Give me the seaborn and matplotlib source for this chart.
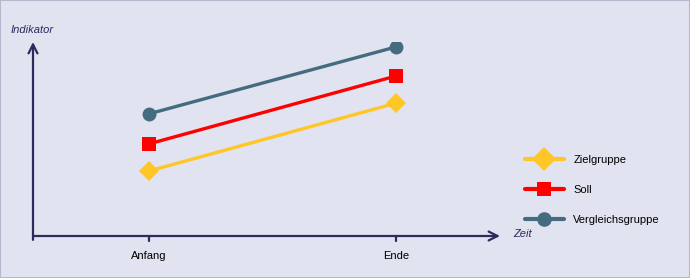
import matplotlib
matplotlib.use("Agg")
import matplotlib.pyplot as plt
import seaborn as sns
import pandas as pd
from matplotlib.patches import Rectangle
from matplotlib.lines import Line2D

sns.set_style("white")
plt.rcParams['font.family'] = ['Liberation Sans', 'DejaVu Sans']

zeitpunkte = ["Anfang", "Ende"]
gruppen = ["Zielgruppe", "Soll", "Vergleichsgruppe"]
zielgruppe = [3.35, 6.85]
soll = [4.75, 8.25]
vergleichsgruppe = [6.3, 9.75]

farben = {"Zielgruppe": "#FFC627", "Soll": "#FF0000", "Vergleichsgruppe": "#456B80"}
marker = {"Zielgruppe": "D", "Soll": "s", "Vergleichsgruppe": "o"}

rows = []
for g, vals in zip(gruppen, [zielgruppe, soll, vergleichsgruppe]):
    for i, v in enumerate(vals):
        rows.append({"Zeit": i, "Wert": v, "Gruppe": g})
df = pd.DataFrame(rows)

navy = "#2B2B5E"
bg = "#E1E3F0"

fig = plt.figure(figsize=(6.9, 2.78), dpi=100)
fig.patch.set_facecolor(bg)
fig.patches.append(Rectangle((0, 0), 1, 1, transform=fig.transFigure, fill=False,
                             edgecolor="#B4B8CC", linewidth=1.5))
W, H = 690, 278
ax = fig.add_axes([33 / W, (H - 236) / H, (500 - 33) / W, (236 - 42) / H])
ax.set_facecolor("none")

sns.lineplot(data=df, x="Zeit", y="Wert", hue="Gruppe", style="Gruppe",
             hue_order=gruppen, style_order=gruppen, palette=farben,
             markers=marker, dashes=False, linewidth=2.4, markersize=10,
             markeredgewidth=0, ax=ax, legend=False)

ax.set_xlim(-0.47, 1.42)
ax.set_ylim(0, 10)
for s in ax.spines.values():
    s.set_visible(False)
ax.set_xticks([0, 1])
ax.set_xticklabels(zeitpunkte, fontsize=8, color="black")
ax.set_yticks([])
ax.tick_params(axis="x", length=0, pad=11)
ax.set_xlabel("")
ax.set_ylabel("")

# axes with arrows
ax.annotate("", xy=(1.0, 0), xytext=(0, 0), xycoords="axes fraction",
            arrowprops=dict(arrowstyle="->", color=navy, lw=1.6,
                            mutation_scale=16, shrinkA=0, shrinkB=0), clip_on=False)
ax.annotate("", xy=(0, 1.0), xytext=(0, -0.02), xycoords="axes fraction",
            arrowprops=dict(arrowstyle="->", color=navy, lw=1.6,
                            mutation_scale=16, shrinkA=0, shrinkB=0), clip_on=False)
for xv in [0, 1]:
    ax.plot([xv, xv], [0, -0.25], color=navy, lw=1.6, clip_on=False)

fig.text(11 / W, 1 - 30 / H, "Indikator", fontsize=8, style="italic", color=navy,
         va="center", ha="left")
fig.text(513 / W, 1 - 234 / H, "Zeit", fontsize=8, style="italic", color=navy,
         va="center", ha="left")

# legend
handles = [Line2D([0], [0], color=farben[g], marker=marker[g], lw=3.0,
                  markersize=12 if g == "Zielgruppe" else 10.5, markeredgewidth=0)
           for g in gruppen]
leg = fig.legend(handles, gruppen, loc="upper left",
                 bbox_to_anchor=(515 / W, 1 - 145 / H), frameon=False,
                 fontsize=8, handlelength=3.5, labelspacing=1.78, handletextpad=0.85,
                 labelcolor="black")

fig.savefig("out.png", dpi=100, facecolor=bg)
